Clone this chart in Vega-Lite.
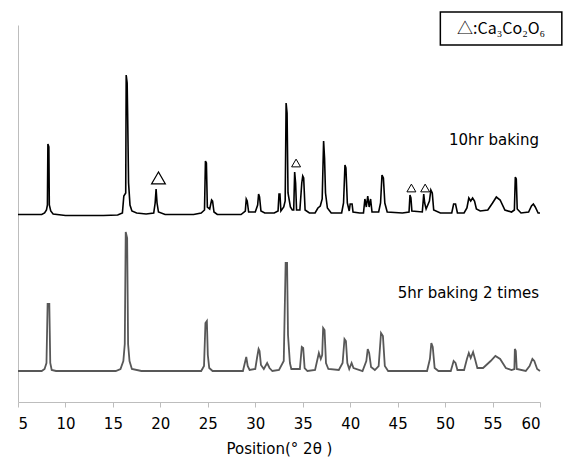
{
  "$schema": "https://vega.github.io/schema/vega-lite/v6.json",
  "width": 522,
  "height": 377,
  "autosize": "none",
  "padding": {"left": 18, "top": 25, "right": 25, "bottom": 65},
  "config": {"view": {"stroke": null}, "font": "DejaVu Sans"},
  "datasets": {
    "top": [
      {"position": 5.0, "intensity": -1.5}, {"position": 7.5, "intensity": -1.5}, {"position": 7.8, "intensity": 0},
      {"position": 8.0, "intensity": 3}, {"position": 8.1, "intensity": 8}, {"position": 8.15, "intensity": 69},
      {"position": 8.25, "intensity": 66}, {"position": 8.3, "intensity": 8}, {"position": 8.45, "intensity": 2},
      {"position": 8.7, "intensity": -1}, {"position": 10.0, "intensity": -2.5}, {"position": 14.0, "intensity": -2.5},
      {"position": 15.5, "intensity": -2}, {"position": 16.0, "intensity": 0}, {"position": 16.15, "intensity": 17},
      {"position": 16.35, "intensity": 20}, {"position": 16.4, "intensity": 138}, {"position": 16.5, "intensity": 130},
      {"position": 16.55, "intensity": 100}, {"position": 16.65, "intensity": 30}, {"position": 16.8, "intensity": 8},
      {"position": 17.0, "intensity": 2}, {"position": 17.5, "intensity": 0}, {"position": 18.5, "intensity": -1},
      {"position": 19.3, "intensity": 0}, {"position": 19.45, "intensity": 10}, {"position": 19.55, "intensity": 24},
      {"position": 19.65, "intensity": 10}, {"position": 19.8, "intensity": 1}, {"position": 20.5, "intensity": -1.5},
      {"position": 23.5, "intensity": -1.5}, {"position": 24.3, "intensity": 0}, {"position": 24.65, "intensity": 3},
      {"position": 24.75, "intensity": 52}, {"position": 24.85, "intensity": 50}, {"position": 24.95, "intensity": 6},
      {"position": 25.2, "intensity": 4}, {"position": 25.4, "intensity": 13}, {"position": 25.5, "intensity": 12},
      {"position": 25.65, "intensity": 1}, {"position": 26.0, "intensity": -1.5}, {"position": 28.5, "intensity": -1.5},
      {"position": 28.95, "intensity": 2}, {"position": 29.05, "intensity": 14}, {"position": 29.15, "intensity": 12},
      {"position": 29.3, "intensity": 1}, {"position": 30.0, "intensity": 1}, {"position": 30.25, "intensity": 8},
      {"position": 30.35, "intensity": 19}, {"position": 30.45, "intensity": 16}, {"position": 30.6, "intensity": 2},
      {"position": 31.0, "intensity": 0}, {"position": 32.0, "intensity": 0}, {"position": 32.4, "intensity": 2},
      {"position": 32.5, "intensity": 19}, {"position": 32.6, "intensity": 19}, {"position": 32.7, "intensity": 2},
      {"position": 33.0, "intensity": 6}, {"position": 33.15, "intensity": 12}, {"position": 33.25, "intensity": 110},
      {"position": 33.35, "intensity": 100}, {"position": 33.45, "intensity": 20}, {"position": 33.7, "intensity": 6},
      {"position": 33.9, "intensity": 3}, {"position": 34.05, "intensity": 3}, {"position": 34.15, "intensity": 41},
      {"position": 34.25, "intensity": 30}, {"position": 34.35, "intensity": 3}, {"position": 34.7, "intensity": 3},
      {"position": 34.9, "intensity": 30}, {"position": 35.0, "intensity": 37}, {"position": 35.1, "intensity": 35},
      {"position": 35.25, "intensity": 3}, {"position": 35.7, "intensity": 0}, {"position": 36.3, "intensity": 0},
      {"position": 36.6, "intensity": 5}, {"position": 36.85, "intensity": 7}, {"position": 37.05, "intensity": 14},
      {"position": 37.2, "intensity": 72}, {"position": 37.3, "intensity": 55}, {"position": 37.4, "intensity": 20},
      {"position": 37.6, "intensity": 5}, {"position": 38.0, "intensity": 0}, {"position": 39.1, "intensity": 0},
      {"position": 39.3, "intensity": 10}, {"position": 39.45, "intensity": 48}, {"position": 39.55, "intensity": 45},
      {"position": 39.7, "intensity": 10}, {"position": 39.9, "intensity": 2}, {"position": 40.0, "intensity": 9},
      {"position": 40.2, "intensity": 9}, {"position": 40.3, "intensity": 1}, {"position": 41.0, "intensity": 0},
      {"position": 41.4, "intensity": 0}, {"position": 41.55, "intensity": 14}, {"position": 41.7, "intensity": 6},
      {"position": 41.85, "intensity": 17}, {"position": 42.0, "intensity": 6}, {"position": 42.15, "intensity": 14},
      {"position": 42.3, "intensity": 1}, {"position": 43.0, "intensity": 1}, {"position": 43.2, "intensity": 10},
      {"position": 43.35, "intensity": 38}, {"position": 43.5, "intensity": 35}, {"position": 43.65, "intensity": 10},
      {"position": 43.9, "intensity": 1}, {"position": 45.5, "intensity": 0}, {"position": 46.2, "intensity": 1},
      {"position": 46.3, "intensity": 18}, {"position": 46.4, "intensity": 15}, {"position": 46.5, "intensity": 2},
      {"position": 47.6, "intensity": 1}, {"position": 47.75, "intensity": 19}, {"position": 47.85, "intensity": 10},
      {"position": 48.0, "intensity": 4}, {"position": 48.35, "intensity": 12}, {"position": 48.5, "intensity": 23},
      {"position": 48.65, "intensity": 20}, {"position": 48.8, "intensity": 3}, {"position": 49.5, "intensity": 0},
      {"position": 50.7, "intensity": 0}, {"position": 50.9, "intensity": 9}, {"position": 51.1, "intensity": 9},
      {"position": 51.3, "intensity": 0}, {"position": 52.0, "intensity": 0}, {"position": 52.3, "intensity": 5},
      {"position": 52.5, "intensity": 15}, {"position": 52.7, "intensity": 12}, {"position": 52.9, "intensity": 15},
      {"position": 53.1, "intensity": 12}, {"position": 53.3, "intensity": 4}, {"position": 53.7, "intensity": 2},
      {"position": 54.5, "intensity": 3}, {"position": 55.0, "intensity": 10}, {"position": 55.4, "intensity": 16},
      {"position": 55.8, "intensity": 13}, {"position": 56.3, "intensity": 3}, {"position": 57.0, "intensity": 1},
      {"position": 57.3, "intensity": 3}, {"position": 57.4, "intensity": 36}, {"position": 57.5, "intensity": 34},
      {"position": 57.6, "intensity": 4}, {"position": 58.0, "intensity": 0}, {"position": 58.8, "intensity": 1},
      {"position": 59.1, "intensity": 7}, {"position": 59.3, "intensity": 9}, {"position": 59.5, "intensity": 6},
      {"position": 59.8, "intensity": 0}, {"position": 60.0, "intensity": 0}
    ],
    "bottom": [
      {"position": 5.0, "intensity": 0}, {"position": 7.5, "intensity": 0}, {"position": 7.8, "intensity": 2},
      {"position": 8.0, "intensity": 8}, {"position": 8.12, "intensity": 67}, {"position": 8.3, "intensity": 67},
      {"position": 8.4, "intensity": 8}, {"position": 8.55, "intensity": 1}, {"position": 9.0, "intensity": 0},
      {"position": 15.3, "intensity": 0}, {"position": 15.8, "intensity": 2}, {"position": 16.1, "intensity": 10},
      {"position": 16.25, "intensity": 27}, {"position": 16.35, "intensity": 139}, {"position": 16.5, "intensity": 133},
      {"position": 16.6, "intensity": 27}, {"position": 16.75, "intensity": 10}, {"position": 17.0, "intensity": 2},
      {"position": 18.0, "intensity": 0}, {"position": 24.3, "intensity": 0}, {"position": 24.6, "intensity": 5},
      {"position": 24.75, "intensity": 48}, {"position": 24.9, "intensity": 50}, {"position": 25.0, "intensity": 16},
      {"position": 25.15, "intensity": 3}, {"position": 25.5, "intensity": 0}, {"position": 28.7, "intensity": 0},
      {"position": 28.95, "intensity": 10}, {"position": 29.05, "intensity": 14}, {"position": 29.2, "intensity": 5},
      {"position": 29.4, "intensity": 1}, {"position": 30.0, "intensity": 2}, {"position": 30.2, "intensity": 14},
      {"position": 30.35, "intensity": 22}, {"position": 30.45, "intensity": 20}, {"position": 30.6, "intensity": 6},
      {"position": 30.9, "intensity": 2}, {"position": 31.25, "intensity": 8}, {"position": 31.5, "intensity": 3},
      {"position": 31.8, "intensity": 0}, {"position": 32.5, "intensity": 1}, {"position": 33.0, "intensity": 10},
      {"position": 33.2, "intensity": 108}, {"position": 33.35, "intensity": 108}, {"position": 33.45, "intensity": 36},
      {"position": 33.65, "intensity": 8}, {"position": 33.8, "intensity": 2}, {"position": 34.7, "intensity": 2},
      {"position": 34.9, "intensity": 24}, {"position": 35.05, "intensity": 23}, {"position": 35.2, "intensity": 3},
      {"position": 35.5, "intensity": 0}, {"position": 36.3, "intensity": 1}, {"position": 36.7, "intensity": 18},
      {"position": 36.9, "intensity": 12}, {"position": 37.05, "intensity": 16}, {"position": 37.15, "intensity": 43},
      {"position": 37.3, "intensity": 41}, {"position": 37.45, "intensity": 8}, {"position": 37.7, "intensity": 2},
      {"position": 38.8, "intensity": 1}, {"position": 39.2, "intensity": 8}, {"position": 39.4, "intensity": 32},
      {"position": 39.55, "intensity": 30}, {"position": 39.7, "intensity": 8}, {"position": 39.9, "intensity": 2},
      {"position": 40.15, "intensity": 8}, {"position": 40.35, "intensity": 3}, {"position": 41.3, "intensity": 0},
      {"position": 41.7, "intensity": 10}, {"position": 41.85, "intensity": 22}, {"position": 42.0, "intensity": 18},
      {"position": 42.2, "intensity": 4}, {"position": 42.6, "intensity": 1}, {"position": 43.0, "intensity": 5},
      {"position": 43.25, "intensity": 38}, {"position": 43.45, "intensity": 35}, {"position": 43.65, "intensity": 5},
      {"position": 44.0, "intensity": 0}, {"position": 48.1, "intensity": 0}, {"position": 48.4, "intensity": 12},
      {"position": 48.55, "intensity": 28}, {"position": 48.7, "intensity": 24}, {"position": 48.9, "intensity": 3},
      {"position": 49.3, "intensity": 0}, {"position": 50.6, "intensity": 0}, {"position": 50.9, "intensity": 10},
      {"position": 51.1, "intensity": 8}, {"position": 51.3, "intensity": 1}, {"position": 52.0, "intensity": 1},
      {"position": 52.3, "intensity": 12}, {"position": 52.5, "intensity": 18}, {"position": 52.7, "intensity": 13},
      {"position": 52.95, "intensity": 19}, {"position": 53.15, "intensity": 12}, {"position": 53.4, "intensity": 3},
      {"position": 54.0, "intensity": 3}, {"position": 54.8, "intensity": 10}, {"position": 55.3, "intensity": 15},
      {"position": 55.8, "intensity": 12}, {"position": 56.4, "intensity": 3}, {"position": 57.0, "intensity": 1},
      {"position": 57.3, "intensity": 2}, {"position": 57.35, "intensity": 22}, {"position": 57.45, "intensity": 20},
      {"position": 57.55, "intensity": 2}, {"position": 58.5, "intensity": 0}, {"position": 58.9, "intensity": 5},
      {"position": 59.2, "intensity": 12}, {"position": 59.4, "intensity": 10}, {"position": 59.7, "intensity": 2},
      {"position": 60.0, "intensity": 0}
    ]
  },
  "layer": [
    {
      "data": {"name": "bottom"},
      "mark": {"type": "line", "color": "#585858", "strokeWidth": 1.8},
      "encoding": {
        "x": {
          "field": "position", "type": "quantitative",
          "scale": {"domain": [5, 60], "nice": false, "zero": false},
          "axis": {
            "values": [5, 10, 15, 20, 25, 30, 35, 40, 45, 50, 55, 60],
            "grid": false, "domainColor": "#bdbdbd", "tickColor": "#bdbdbd", "tickSize": 5,
            "labelFontSize": 15, "labelColor": "#000000", "labelPadding": 9,
            "title": "Position(°  2θ )", "titleFontSize": 15, "titleFontWeight": "normal",
            "titleColor": "#000000", "titlePadding": 10
          }
        },
        "y": {
          "field": "intensity", "type": "quantitative",
          "scale": {"domain": [-31, 346], "nice": false, "zero": false},
          "axis": {"labels": false, "ticks": false, "title": null, "grid": false, "domainColor": "#bdbdbd"}
        }
      }
    },
    {
      "data": {"name": "top"},
      "transform": [{"calculate": "datum.intensity + 158", "as": "stacked"}],
      "mark": {"type": "line", "color": "#000000", "strokeWidth": 1.6},
      "encoding": {
        "x": {"field": "position", "type": "quantitative"},
        "y": {"field": "stacked", "type": "quantitative"}
      }
    },
    {
      "data": {"values": [{"position": 19.8, "y": 193}]},
      "mark": {"type": "point", "shape": "triangle-up", "filled": false, "stroke": "#000000", "strokeWidth": 1.2, "size": 190, "opacity": 1},
      "encoding": {
        "x": {"field": "position", "type": "quantitative"},
        "y": {"field": "y", "type": "quantitative"}
      }
    },
    {
      "data": {"values": [{"position": 34.3, "y": 208}, {"position": 46.45, "y": 183}, {"position": 47.9, "y": 183}]},
      "mark": {"type": "point", "shape": "triangle-up", "filled": false, "stroke": "#000000", "strokeWidth": 1, "size": 80, "opacity": 1},
      "encoding": {
        "x": {"field": "position", "type": "quantitative"},
        "y": {"field": "y", "type": "quantitative"}
      }
    },
    {
      "data": {"values": [{"position": 59.9, "y": 231, "label": "10hr baking"}, {"position": 59.9, "y": 78, "label": "5hr baking 2 times"}]},
      "mark": {"type": "text", "align": "right", "baseline": "middle", "fontSize": 15, "color": "#000000"},
      "encoding": {
        "x": {"field": "position", "type": "quantitative"},
        "y": {"field": "y", "type": "quantitative"},
        "text": {"field": "label"}
      }
    },
    {
      "data": {"values": [{"x1": 49.5, "x2": 62.3, "y1": 326, "y2": 359}]},
      "mark": {"type": "rect", "fill": "#ffffff", "stroke": "#000000", "strokeWidth": 1.5, "clip": false},
      "encoding": {
        "x": {"field": "x1", "type": "quantitative"},
        "x2": {"field": "x2"},
        "y": {"field": "y1", "type": "quantitative"},
        "y2": {"field": "y2"}
      }
    },
    {
      "data": {"values": [{"position": 55.9, "y": 342, "label": "△:Ca₃Co₂O₆"}]},
      "mark": {"type": "text", "align": "center", "baseline": "middle", "fontSize": 16, "font": "Noto Sans CJK JP", "color": "#000000", "clip": false},
      "encoding": {
        "x": {"field": "position", "type": "quantitative"},
        "y": {"field": "y", "type": "quantitative"},
        "text": {"field": "label"}
      }
    }
  ]
}
